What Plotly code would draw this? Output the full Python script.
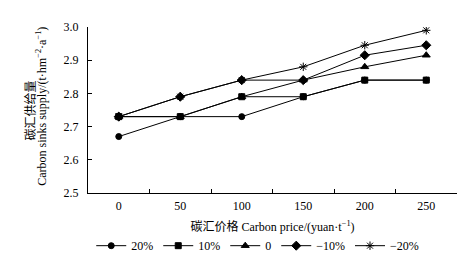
import plotly.graph_objects as go

prices = ["0", "50", "100", "150", "200", "250"]
s_p20 = [2.67, 2.73, 2.73, 2.79, 2.84, 2.84]
s_p10 = [2.73, 2.73, 2.79, 2.79, 2.84, 2.84]
s_0 = [2.73, 2.73, 2.79, 2.84, 2.88, 2.915]
s_m10 = [2.73, 2.79, 2.84, 2.84, 2.915, 2.945]
s_m20 = [2.73, 2.79, 2.84, 2.88, 2.945, 2.99]

series = [
    ("20%", s_p20, "circle", 6),
    ("10%", s_p10, "square", 6),
    ("0", s_0, "triangle-up", 7),
    ("\u221210%", s_m10, "diamond", 7),
    ("\u221220%", s_m20, "asterisk-open", 7),
]

FONT = "Liberation Serif, Times New Roman, Noto Sans CJK SC, serif"
CJK = "Noto Sans CJK SC"

fig = go.Figure()
for name, vals, sym, sz in series:
    fig.add_trace(go.Scatter(
        x=prices, y=vals, name=name, mode="lines+markers",
        line=dict(color="black", width=1),
        marker=dict(symbol=sym, size=sz, color="black",
                    line=dict(color="black", width=1)),
    ))

fig.update_layout(
    width=474, height=264,
    margin=dict(l=80, r=25, t=16, b=65),
    paper_bgcolor="white", plot_bgcolor="white",
    font=dict(family=FONT, size=12, color="black"),
    showlegend=True,
    legend=dict(orientation="h", x=0.46, xanchor="center", y=-0.23,
                yanchor="top", itemwidth=30, font=dict(size=12),
                tracegroupgap=0, bgcolor="rgba(0,0,0,0)"),
    xaxis=dict(
        type="category", range=[-0.5, 5.5], showgrid=False,
        showline=True, linecolor="black", linewidth=1,
        ticks="inside", tickson="boundaries", ticklen=4, tickcolor="black",
        tickfont=dict(size=12), ticklabelstandoff=2,
        title=dict(text="碳汇价格 Carbon price/(yuan·t<sup>−1</sup>)",
                   font=dict(size=12), standoff=10),
    ),
    yaxis=dict(
        range=[2.5, 3.0], dtick=0.1, tickformat=".1f", showgrid=False,
        showline=True, linecolor="black", linewidth=1,
        ticks="inside", ticklen=4, tickcolor="black",
        tickfont=dict(size=12), zeroline=False, ticklabelstandoff=6,
    ),
    annotations=[
        dict(text="碳汇供给量", xref="paper", yref="paper",
             x=(21-80)/369, y=(199-108)/183, textangle=-90, showarrow=False,
             xanchor="center", yanchor="middle",
             font=dict(size=12, family=CJK)),
        dict(text="Carbon sinks supply/(t·hm<sup>−2</sup>·a<sup>−1</sup>)",
             xref="paper", yref="paper",
             x=(34-80)/369, y=(199-104)/183, textangle=-90, showarrow=False,
             xanchor="center", yanchor="middle", font=dict(size=12)),
    ],
)

fig.write_html("out.html")
